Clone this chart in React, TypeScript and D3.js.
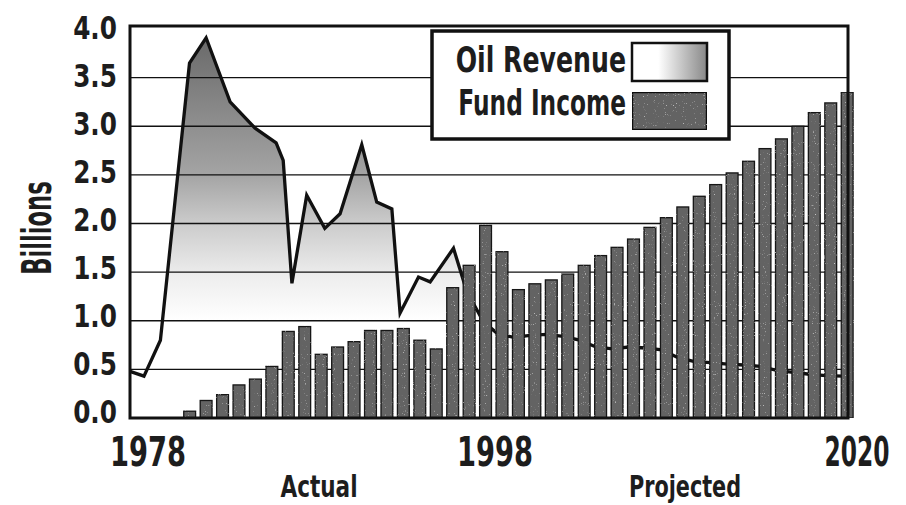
import * as d3 from "d3"
import React from "react"

// fund income bars, one per fiscal year
const fundYears = d3.range(1980, 2021)
const fundIncome = [
  0.07, 0.18, 0.24, 0.34, 0.40, 0.53, 0.89, 0.94, 0.655, 0.73,
  0.785, 0.90, 0.90, 0.92, 0.80, 0.71, 1.34, 1.57, 1.98, 1.71,
  1.32, 1.38, 1.42, 1.48, 1.57, 1.67, 1.755, 1.84, 1.96, 2.06,
  2.17, 2.28, 2.40, 2.52, 2.64, 2.77, 2.87, 3.00, 3.14, 3.24, 3.35,
]

// oil revenue line (fractional years)
const oilYears = [
  1977.15, 1978.0, 1979.0, 1980.77, 1981.78, 1983.24, 1984.76, 1986.04, 1986.47, 1987.0,
  1987.9, 1989.0, 1989.93, 1991.25, 1992.16, 1993.08, 1993.58, 1994.7, 1995.41, 1996.83,
  1997.64, 1998.65, 1999.56, 2000.5, 2001.5, 2002.5, 2003.5, 2004.5, 2005.5, 2006.5,
  2007.5, 2008.5, 2009.5, 2010.5, 2011.5, 2012.5, 2013.5, 2014.5, 2015.5, 2016.5,
  2017.5, 2018.5, 2019.5, 2020.5, 2020.83,
]
const oilRevenue = [
  0.48, 0.43, 0.80, 3.65, 3.91, 3.25, 2.98, 2.83, 2.65, 1.385,
  2.29, 1.95, 2.10, 2.81, 2.22, 2.15, 1.08, 1.45, 1.40, 1.745,
  1.30, 0.99, 0.86, 0.83, 0.85, 0.86, 0.84, 0.80, 0.73, 0.71,
  0.73, 0.72, 0.70, 0.62, 0.58, 0.57, 0.555, 0.545, 0.53, 0.49,
  0.47, 0.45, 0.435, 0.43, 0.43,
]

const yTicks = [0, 0.5, 1, 1.5, 2, 2.5, 3, 3.5, 4]
const gridTicks = [0.5, 1, 1.5, 2, 2.5, 3, 3.5]
const yearLabels = ["1978", "1998", "2020"]
const legendLabels = ["Oil Revenue", "Fund Income"]

const FONT = "'Liberation Sans Narrow', 'DejaVu Sans Condensed', 'Liberation Sans', sans-serif"

// squeezed bold label, the original used a very condensed face
const Label = ({ x, y, sx, size, anchor = "middle", children }: any) => (
  <text transform={`translate(${x},${y}) scale(${sx},1)`} textAnchor={anchor} fontFamily={FONT}
    fontWeight="bold" fontSize={size} fill="#1d1d1d">{children}</text>
)

export default function App() {
  const W = 906, H = 505
  const left = 130, right = 848, top = 26, bottom = 418

  const x = d3.scaleLinear().domain([1977.15, 2020.83]).range([left, right])
  const y = d3.scaleLinear().domain([0, 4]).range([bottom, 29])
  const yLab = d3.scaleLinear().domain([0, 4]).range([411, 27])
  const step = x(1981) - x(1980)
  const barW = step * 0.72

  const oil = oilYears.map((yr, i) => [yr, oilRevenue[i]] as [number, number])
  const area = d3.area<[number, number]>().x(d => x(d[0])).y0(y(0)).y1(d => y(d[1]))(oil)
  const line = d3.line<[number, number]>().x(d => x(d[0])).y(d => y(d[1]))(oil)

  const yearPos = [
    { x: 148, sx: 0.76 },
    { x: 495, sx: 0.76 },
    { x: 857, sx: 0.65 },
  ]

  return (
    <div style={{ position: "absolute", left: 0, top: 0 }}>
      <svg width={W} height={H} viewBox={`0 0 ${W} ${H}`} style={{ display: "block", background: "#fff" }}>
        <defs>
          <linearGradient id="oilFill" gradientUnits="userSpaceOnUse" x1="0" y1={y(4)} x2="0" y2={y(1)}>
            <stop offset="0" stopColor="#666" />
            <stop offset="0.5" stopColor="#a4a4a4" />
            <stop offset="0.67" stopColor="#cccccc" />
            <stop offset="0.85" stopColor="#eeeeee" />
            <stop offset="1" stopColor="#ffffff" />
          </linearGradient>
          <linearGradient id="oilSwatch" x1="0" y1="0" x2="1" y2="0">
            <stop offset="0" stopColor="#ffffff" />
            <stop offset="0.35" stopColor="#ffffff" />
            <stop offset="1" stopColor="#888" />
          </linearGradient>
          <filter id="grain" x="0" y="0" width="100%" height="100%">
            <feTurbulence type="fractalNoise" baseFrequency="0.9" numOctaves={1} seed={4} result="n" />
            <feColorMatrix in="n" type="matrix"
              values="0 0 0 0 1  0 0 0 0 1  0 0 0 0 1  3 0 0 0 -2" result="spk" />
            <feComposite in="spk" in2="SourceGraphic" operator="in" result="spk2" />
            <feMerge>
              <feMergeNode in="SourceGraphic" />
              <feMergeNode in="spk2" />
            </feMerge>
          </filter>
        </defs>

        <path d={area || ""} fill="url(#oilFill)" />

        {gridTicks.map(t => (
          <line key={t} x1={left} x2={right} y1={y(t)} y2={y(t)} stroke="#111" strokeWidth={1.4} />
        ))}

        <path d={line || ""} fill="none" stroke="#111" strokeWidth={3.3} strokeLinejoin="miter" />

        <g filter="url(#grain)">
          {fundYears.map((yr, i) => (
            <rect
              key={yr}
              x={x(yr + 0.78) - barW / 2}
              y={y(fundIncome[i])}
              width={barW}
              height={y(0) - y(fundIncome[i])}
              fill="#646464"
              stroke="#151515"
              strokeWidth={1.3}
            />
          ))}
        </g>

        <rect x={left} y={top} width={right - left} height={bottom - top} fill="none" stroke="#111" strokeWidth={3} />

        {yTicks.map(t => (
          <Label key={t} x={117} y={yLab(t) + 12} sx={0.86} size={32} anchor="end">{t.toFixed(1)}</Label>
        ))}

        <text transform="translate(51,228) rotate(-90) scale(0.63,1)" textAnchor="middle" fontFamily={FONT}
          fontWeight="bold" fontSize={40} fill="#1d1d1d">Billions</text>

        {yearLabels.map((lab, i) => (
          <Label key={lab} x={yearPos[i].x} y={466} sx={yearPos[i].sx} size={40}>{lab}</Label>
        ))}

        <Label x={319} y={497} sx={0.8} size={30}>Actual</Label>
        <Label x={685} y={497} sx={0.77} size={30}>Projected</Label>

        <g>
          <rect x={432} y={31} width={297} height={108} fill="#fff" stroke="#111" strokeWidth={3.5} />
          <Label x={626} y={72} sx={0.8} size={35} anchor="end">{legendLabels[0]}</Label>
          <Label x={626} y={115} sx={0.74} size={35} anchor="end">{legendLabels[1]}</Label>
          <rect x={632} y={43} width={75} height={38} fill="url(#oilSwatch)" stroke="#111" strokeWidth={2.5} />
          <rect x={632} y={92} width={75} height={38} fill="#646464" stroke="#111" strokeWidth={2.5} filter="url(#grain)" />
        </g>
      </svg>
    </div>
  )
}
